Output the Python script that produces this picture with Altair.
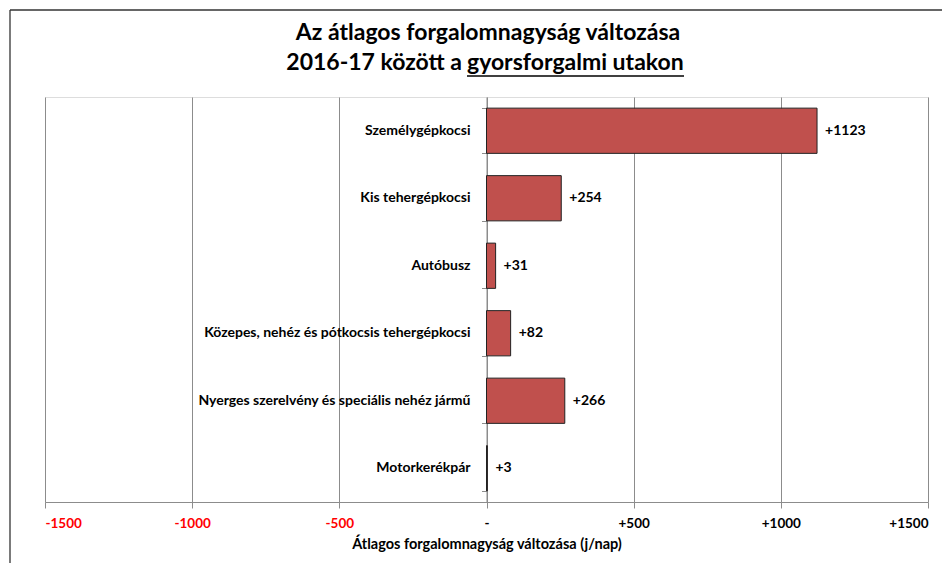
import altair as alt
import pandas as pd

categories = [
    "Személygépkocsi",
    "Kis tehergépkocsi",
    "Autóbusz",
    "Közepes, nehéz és pótkocsis tehergépkocsi",
    "Nyerges szerelvény és speciális nehéz jármű",
    "Motorkerékpár",
]
values = [1123, 254, 31, 82, 266, 3]
x_ticks = [-1500, -1000, -500, 0, 500, 1000, 1500]

title_line1 = "Az átlagos forgalomnagyság változása"
title_line2a = "2016-17 között a"
title_line2b = "gyorsforgalmi utakon"
x_title = "Átlagos forgalomnagyság változása (j/nap)"

df = pd.DataFrame({"cat": categories, "val": values})
df["lab"] = ["+" + str(v) for v in values]

FONT = "Lato"
W, H = 883, 405

xs = alt.Scale(domain=[-1500, 1500], nice=False)
ys = alt.Scale(domain=categories, paddingInner=0.33, paddingOuter=0.165)

base = alt.Chart(df)

bars = base.mark_bar(color="#C0504D", stroke="#222222", strokeWidth=1).encode(
    x=alt.X("val:Q", scale=xs, axis=alt.Axis(
        values=x_ticks, title=x_title, grid=True, gridColor="#8c8c8c", gridWidth=1,
        domainColor="#8c8c8c", tickColor="#8c8c8c", tickSize=6,
        labelFont=FONT, labelFontWeight="bold", labelFontSize=13.5, labelPadding=8,
        labelExpr="datum.value > 0 ? '+' + datum.value : (datum.value == 0 ? '-' : '' + datum.value)",
        labelColor={"condition": {"test": "datum.value < 0", "value": "#FF0000"}, "value": "#000000"},
        titleFont=FONT, titleFontWeight="bold", titleFontSize=14.5, titlePadding=8, titleColor="#000000",
    )),
    y=alt.Y("cat:N", scale=ys, sort=categories, axis=alt.Axis(
        labels=False, title=None, grid=False, offset=-W / 2, tickBand="extent",
        domainColor="#8c8c8c", tickColor="#8c8c8c", tickSize=5,
    )),
)

val_text = base.mark_text(align="left", dx=8, font=FONT, fontWeight="bold", fontSize=14, color="#000000").encode(
    x=alt.X("val:Q", scale=xs), y=alt.Y("cat:N", scale=ys, sort=categories), text="lab:N"
)

cat_text = base.mark_text(align="right", dx=-16, font=FONT, fontWeight="bold", fontSize=14, color="#000000").encode(
    x=alt.datum(0, scale=xs), y=alt.Y("cat:N", scale=ys, sort=categories), text="cat:N"
)

TS = 23
t1 = alt.Chart(pd.DataFrame({"t": [title_line1]})).mark_text(align="center", baseline="middle", font=FONT, fontWeight="bold", fontSize=TS, color="#000000").encode(
    x=alt.value(W / 2 + 1.5), y=alt.value(-64), text="t:N"
)
t2a = alt.Chart(pd.DataFrame({"t": [title_line2a]})).mark_text(align="right", baseline="middle", font=FONT, fontWeight="bold", fontSize=TS, color="#000000").encode(
    x=alt.value(417), y=alt.value(-34), text="t:N"
)
t2b = alt.Chart(pd.DataFrame({"t": [title_line2b]})).mark_text(align="left", baseline="middle", font=FONT, fontWeight="bold", fontSize=TS, color="#000000").encode(
    x=alt.value(422), y=alt.value(-34), text="t:N"
)
underline = alt.Chart(pd.DataFrame({"a": [0]})).mark_rule(color="#000000", strokeWidth=1.5).encode(
    x=alt.value(422), x2=alt.value(639), y=alt.value(-21)
)
frame_top = alt.Chart(pd.DataFrame({"a": [0]})).mark_rule(color="#333333", strokeWidth=1.3).encode(
    x=alt.value(-35), x2=alt.value(905), y=alt.value(-87)
)
frame_left = alt.Chart(pd.DataFrame({"a": [0]})).mark_rule(color="#333333", strokeWidth=1.3).encode(
    x=alt.value(-35), y=alt.value(-87), y2=alt.value(470)
)

chart = alt.layer(frame_top, frame_left, bars, val_text, cat_text, t1, t2a, t2b, underline).properties(
    width=W, height=H,
    autosize=alt.AutoSizeParams(type="none"),
    padding={"left": 37, "top": 89, "right": 14, "bottom": 61},
).configure_view(stroke=None).configure(background="white")

chart.save("out.html", embed_options={"renderer": "svg", "actions": False})
